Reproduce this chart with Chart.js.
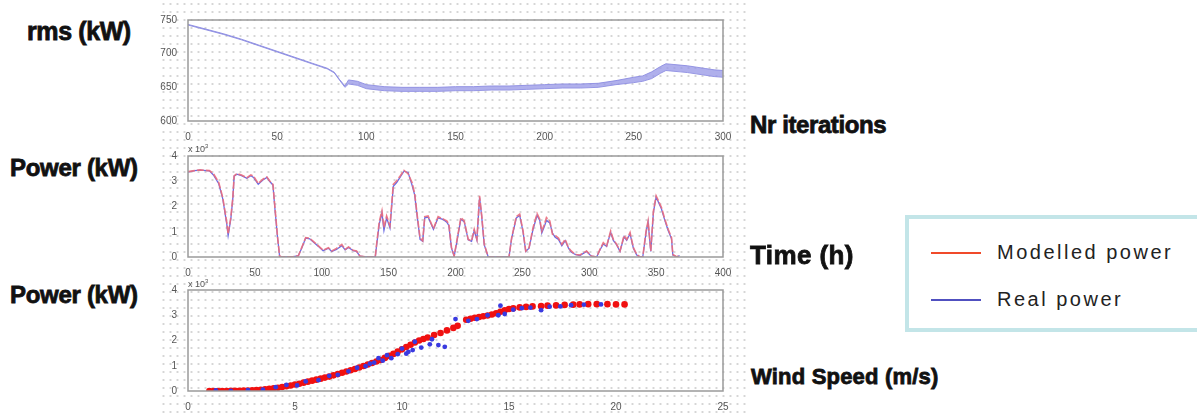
<!DOCTYPE html>
<html>
<head>
<meta charset="utf-8">
<script src="https://cdn.jsdelivr.net/npm/chart.js@4/dist/chart.umd.min.js"></script>
<style>
  body { margin: 0; width: 1197px; height: 419px; background: #fff; position: relative; overflow: hidden; font-family: "Liberation Sans", Arial, sans-serif; }
  #dots { position: absolute; left: 160px; top: 0; width: 588px; height: 419px;
    background-image: radial-gradient(circle, #d6d6d6 0.9px, transparent 1.3px);
    background-size: 7px 8px; }
  canvas { position: absolute; }
  .big { position: absolute; font-weight: bold; font-size: 24px; letter-spacing: -0.7px; color: #111;
    -webkit-text-stroke: 0.8px #111; white-space: nowrap; line-height: 1; }
  .mult { position: absolute; font-size: 9px; color: #555; }
  #legend { position: absolute; left: 905px; top: 215px; width: 300px; height: 109px;
    border: 4px solid #c3e5e8; background: #fff; }
  .lline { position: absolute; left: 22px; width: 50px; height: 2px; }
  .ltext { position: absolute; left: 88px; font-size: 20px; letter-spacing: 2.5px; color: #222; }
</style>
</head>
<body>
<div id="dots"></div>

<canvas id="c1" width="600" height="137" style="left:150px; top:8px"></canvas>
<canvas id="c2" width="600" height="140" style="left:150px; top:140px"></canvas>
<canvas id="c3" width="600" height="140" style="left:150px; top:278px"></canvas>

<div class="big" style="left:27px; top:19px; font-size:25px; letter-spacing:-0.4px">rms (kW)</div>
<div class="big" style="left:750px; top:113px; letter-spacing:-0.4px">Nr iterations</div>
<div class="big" style="left:10px; top:156px; letter-spacing:-0.3px">Power (kW)</div>
<div class="big" style="left:750px; top:242px; font-size:26px; letter-spacing:0.4px">Time (h)</div>
<div class="big" style="left:10px; top:283px; letter-spacing:-0.3px">Power (kW)</div>
<div class="big" style="left:751px; top:366px; font-size:22px; letter-spacing:0.2px">Wind Speed (m/s)</div>
<div class="mult" style="left:188px; top:143px">x 10<sup style="font-size:6px">3</sup></div>
<div class="mult" style="left:188px; top:278px">x 10<sup style="font-size:6px">3</sup></div>

<div id="legend">
  <div class="lline" style="top:33px; background:#f04a2a"></div>
  <div class="ltext" style="top:22px">Modelled power</div>
  <div class="lline" style="top:80px; background:#5050c0"></div>
  <div class="ltext" style="top:69px">Real power</div>
</div>

<script>
'use strict';
// rms convergence (top plot), upper and lower edge of the noisy band
let iterations = [0, 10, 20, 30, 40, 50, 60, 70, 78, 82, 85, 88, 90, 95, 100, 110, 120, 130, 140, 150, 160, 170, 180, 190, 200, 210, 220, 230, 240, 250, 255, 260, 265, 268, 272, 276, 280, 285, 290, 295, 300]
let rmsUpper = [743.5, 736.5, 729.5, 721.5, 712.5, 703.5, 694.5, 685.5, 678.5, 672.5, 661.5, 652, 661, 659, 654, 651, 650, 650, 650, 651, 651, 652, 652, 653, 654, 655, 655, 656, 660, 665, 667, 673, 681, 685, 684, 683, 682, 680, 678, 676, 675]
let rmsLower = [742.5, 735.5, 728.5, 720.5, 711.5, 702.5, 693.5, 684.5, 677.5, 671.5, 660.5, 650, 655, 653, 648, 645, 644, 644, 644, 645, 645, 646, 646, 647, 648, 649, 649, 650, 654, 657, 659, 663, 671, 675, 674, 673, 672, 670, 668, 666, 665]

// power time series (middle plot), values in kW x 10^3
let hours = [0, 5, 9, 16, 19, 23, 26, 29, 30, 32, 33.5, 34.5, 36.5, 40, 44, 47, 49, 52.5, 56, 59, 61, 63.5, 65, 67, 68.5, 70, 79, 82.5, 85, 88, 91, 93.5, 97.5, 101, 105, 107.5, 111, 115, 117.5, 120, 123.5, 126, 128.5, 133, 140, 141, 143, 145, 146.5, 148.5, 151, 153.5, 156, 158.5, 161.5, 164.5, 167.5, 169.5, 171.5, 173.5, 175.5, 177, 179.5, 183.5, 187, 191, 193.5, 195, 197, 199, 201, 204, 206.5, 209.5, 212, 214, 216, 218, 219.5, 221.5, 224.5, 240, 242, 245.5, 248, 250.5, 252.5, 255, 258, 261, 263, 264.5, 266.5, 268, 270.5, 272.5, 274.5, 277, 279.5, 282, 284.5, 286.5, 289.5, 293, 298, 301.5, 305.5, 308, 310.5, 313, 316, 318, 320.5, 323, 326, 328, 330.5, 333, 335.5, 338, 340, 342.5, 344, 346, 348, 350, 351.5, 354, 356.5, 359, 361.5, 362.5, 365.5, 367.5]
let modelledPower = [3.38, 3.42, 3.45, 3.42, 3.3, 2.95, 2.35, 1.36, 0.91, 1.56, 2.35, 3.21, 3.3, 3.25, 3.14, 3.25, 3.2, 2.91, 3.08, 3.17, 3.02, 2.88, 1.96, 0.77, 0.04, 0, 0.02, 0.05, 0.37, 0.77, 0.74, 0.63, 0.44, 0.27, 0.37, 0.24, 0.34, 0.5, 0.3, 0.4, 0.27, 0.24, 0.04, 0, 0, 0.5, 1.4, 1.83, 1.17, 1.63, 1.24, 2.88, 3.02, 3.2, 3.43, 3.3, 2.95, 2.5, 1.6, 0.75, 0.64, 1.6, 1.63, 1.12, 1.6, 1.5, 1.43, 1.3, 0.37, 0.04, 0.64, 1.56, 1.43, 0.7, 0.64, 1.1, 0.7, 2.42, 1.7, 0.5, 0, 0, 0.77, 1.6, 1.7, 1.03, 0.24, 0.37, 1.17, 1.72, 1.5, 1.03, 1.3, 1.56, 1.43, 0.9, 0.85, 0.75, 0.5, 0.7, 0.37, 0.24, 0.1, 0.08, 0.24, 0.04, 0, 0.3, 0.57, 0.44, 1.03, 0.7, 0.5, 0.24, 0.85, 0.7, 0.97, 0.37, 0.1, 0, 0, 1.03, 1.43, 0.24, 1.83, 2.42, 2.25, 1.96, 1.5, 1.1, 0.77, 0.1, 0, 0.08]
let realPower = [3.36, 3.42, 3.44, 3.41, 3.25, 2.9, 2.3, 1.3, 0.85, 1.5, 2.3, 3.2, 3.28, 3.22, 3.12, 3.22, 3.15, 2.88, 3.05, 3.15, 3.0, 2.85, 1.9, 0.75, 0.02, 0, 0.01, 0.05, 0.35, 0.75, 0.72, 0.6, 0.42, 0.25, 0.35, 0.22, 0.3, 0.45, 0.28, 0.38, 0.25, 0.22, 0.03, 0, 0, 0.45, 1.3, 1.75, 1.05, 1.55, 1.15, 2.8, 2.95, 3.15, 3.4, 3.35, 2.85, 2.45, 1.55, 0.7, 0.62, 1.55, 1.58, 1.1, 1.55, 1.48, 1.38, 1.25, 0.35, 0.03, 0.6, 1.5, 1.4, 0.68, 0.62, 1.05, 0.68, 2.35, 1.65, 0.48, 0, 0, 0.75, 1.55, 1.65, 1.0, 0.22, 0.35, 1.1, 1.65, 1.45, 0.95, 1.22, 1.45, 1.35, 0.95, 0.78, 0.7, 0.45, 0.65, 0.35, 0.2, 0.1, 0.06, 0.22, 0.03, 0, 0.28, 0.52, 0.42, 0.98, 0.66, 0.48, 0.22, 0.8, 0.66, 0.92, 0.35, 0.08, 0, 0, 0.98, 1.38, 0.22, 1.78, 2.38, 2.2, 1.9, 1.45, 1.05, 0.72, 0.08, 0, 0.06]

// power curve (bottom plot)
let modelledWind = [1.0, 1.2, 1.4, 1.6, 1.8, 2.0, 2.2, 2.4, 2.6, 2.8, 3.0, 3.2, 3.4, 3.6, 3.8, 4.0, 4.2, 4.4, 4.6, 4.8, 5.0, 5.2, 5.4, 5.6, 5.8, 6.0, 6.2, 6.4, 6.6, 6.8, 7.0, 7.2, 7.4, 7.6, 7.8, 8.0, 8.2, 8.4, 8.6, 8.8, 9.0, 9.2, 9.4, 9.6, 9.8, 10.0, 10.2, 10.4, 10.6, 10.8, 11.0, 11.2, 11.5, 11.8, 12.1, 12.4, 12.6, 13.0, 13.2, 13.4, 13.6, 13.8, 14.0, 14.2, 14.4, 14.6, 14.8, 15.0, 15.2, 15.5, 15.8, 16.1, 16.5, 16.8, 17.2, 17.6, 18.0, 18.3, 18.7, 19.1, 19.6, 20.0, 20.4]
let modelledCurve = [0.0, 0.0, 0.0, 0.0, 0.0, 0.01, 0.01, 0.01, 0.02, 0.02, 0.03, 0.04, 0.05, 0.07, 0.09, 0.11, 0.13, 0.16, 0.19, 0.22, 0.26, 0.29, 0.33, 0.37, 0.41, 0.45, 0.49, 0.53, 0.57, 0.62, 0.67, 0.72, 0.77, 0.82, 0.87, 0.93, 0.99, 1.05, 1.11, 1.17, 1.23, 1.31, 1.39, 1.47, 1.56, 1.65, 1.74, 1.83, 1.92, 2.0, 2.06, 2.12, 2.22, 2.3, 2.4, 2.5, 2.58, 2.82, 2.86, 2.9, 2.93, 2.96, 2.99, 3.03, 3.08, 3.14, 3.2, 3.25, 3.28, 3.31, 3.33, 3.35, 3.36, 3.38, 3.39, 3.41, 3.42, 3.43, 3.44, 3.44, 3.44, 3.43, 3.43]
let realWind = [1.3, 2.0, 2.8, 3.5, 4.1, 4.6, 5.1, 5.5, 6.1, 6.6, 7.0, 7.5, 7.9, 8.3, 8.5, 8.7, 8.9, 9.1, 9.3, 9.5, 9.8, 10.0, 10.2, 10.3, 10.5, 10.6, 10.9, 11.3, 11.4, 11.7, 12.0, 12.5, 13.1, 13.5, 14.0, 14.5, 14.6, 14.8, 15.2, 15.6, 16.0, 16.5, 16.9, 17.4, 17.9, 18.5, 19.3]
let realCurve = [0.02, 0.0, 0.03, 0.05, 0.15, 0.24, 0.22, 0.38, 0.43, 0.6, 0.64, 0.78, 0.92, 0.98, 1.08, 1.12, 1.3, 1.2, 1.42, 1.3, 1.46, 1.68, 1.48, 1.55, 1.62, 1.95, 1.72, 1.85, 2.05, 1.82, 1.75, 2.85, 2.78, 2.85, 3.0, 3.0, 3.38, 3.05, 3.22, 3.28, 3.3, 3.2, 3.34, 3.35, 3.4, 3.42, 3.43]

function toPoints(xs, ys) {
  let pts = []
  for (let i = 0; i < xs.length; i++) {
    pts.push({ x: xs[i], y: ys[i] })
  }
  return pts
}

// draws the full box around the plot area like matlab does
const boxPlugin = {
  id: 'box',
  afterDraw(chart) {
    const a = chart.chartArea
    const ctx = chart.ctx
    ctx.save()
    ctx.strokeStyle = '#9a9a9a'
    ctx.lineWidth = 1.5
    ctx.strokeRect(a.left, a.top, a.right - a.left, a.bottom - a.top)
    ctx.restore()
  }
}

function axes(xmin, xmax, xstep, ymin, ymax, ystep, xHeight) {
  const tickFont = { family: 'Liberation Sans', size: 10 }
  return {
    x: {
      type: 'linear', min: xmin, max: xmax,
      ticks: { stepSize: xstep, color: '#555', font: tickFont, padding: 2 },
      grid: { display: false },
      border: { display: false },
      afterFit(scale) { scale.height = xHeight }
    },
    y: {
      min: ymin, max: ymax,
      ticks: { stepSize: ystep, color: '#555', font: tickFont, padding: 3 },
      grid: { display: false },
      border: { display: false },
      afterFit(scale) { scale.width = 38 }
    }
  }
}

const common = {
  responsive: false,
  animation: false,
  plugins: { legend: { display: false }, tooltip: { enabled: false } }
}

new Chart(document.getElementById('c1').getContext('2d'), {
  type: 'scatter',
  data: {
    datasets: [{
      data: toPoints(iterations, rmsUpper),
      showLine: true, pointRadius: 0, borderWidth: 1,
      borderColor: 'rgba(140,140,225,0.9)',
      backgroundColor: 'rgba(150,150,230,0.75)',
      fill: '+1'
    }, {
      data: toPoints(iterations, rmsLower),
      showLine: true, pointRadius: 0, borderWidth: 1,
      borderColor: 'rgba(140,140,225,0.9)'
    }]
  },
  options: Object.assign({}, common, {
    layout: { padding: { top: 12, right: 27 } },
    scales: axes(0, 300, 50, 600, 750, 50, 24)
  }),
  plugins: [boxPlugin]
})

// first dataset is drawn on top, so modelled (red) goes first
new Chart(document.getElementById('c2').getContext('2d'), {
  type: 'scatter',
  data: {
    datasets: [{
      data: toPoints(hours, modelledPower),
      showLine: true, pointRadius: 0, borderWidth: 1.6,
      borderColor: 'rgba(235,110,125,0.9)',
      borderDash: [7, 2]
    }, {
      data: toPoints(hours, realPower),
      showLine: true, pointRadius: 0, borderWidth: 1.3,
      borderColor: 'rgba(70,70,220,0.8)'
    }]
  },
  options: Object.assign({}, common, {
    layout: { padding: { top: 16, right: 27 } },
    scales: axes(0, 400, 50, 0, 4, 1, 23)
  }),
  plugins: [boxPlugin]
})

new Chart(document.getElementById('c3').getContext('2d'), {
  type: 'scatter',
  data: {
    datasets: [{
      data: toPoints(realWind, realCurve),
      pointRadius: 2.4, borderWidth: 0,
      backgroundColor: '#3a3ae0'
    }, {
      data: toPoints(modelledWind, modelledCurve),
      pointRadius: 3.3, borderWidth: 0,
      backgroundColor: '#f01010'
    }]
  },
  options: Object.assign({}, common, {
    layout: { padding: { top: 12, right: 27 } },
    scales: axes(0, 25, 5, 0, 4, 1, 27)
  }),
  plugins: [boxPlugin]
})
</script>
</body>
</html>
